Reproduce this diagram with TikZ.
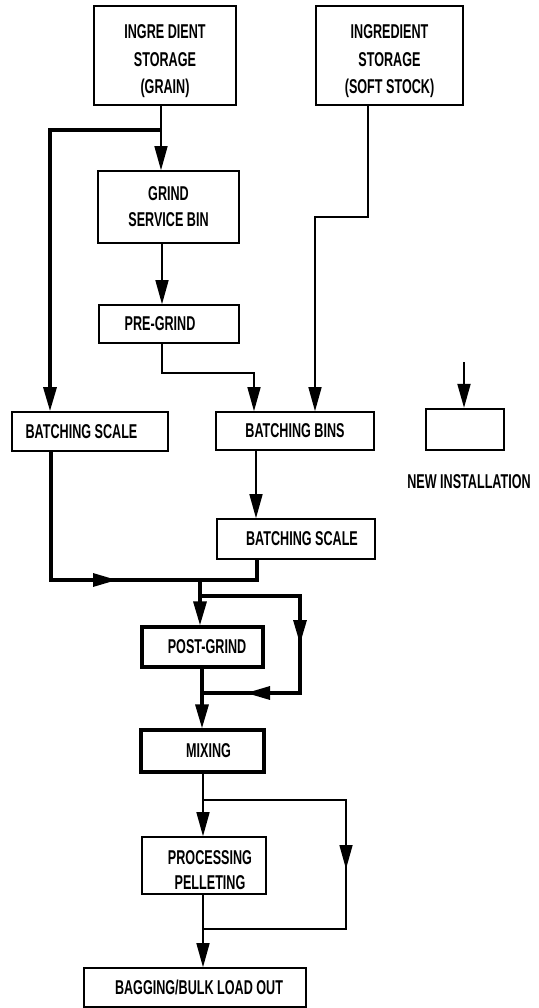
\documentclass[tikz,border=0pt]{standalone}
\usepackage{fontspec}
\setmainfont{Liberation Sans Bold}[FakeStretch=0.63]
\usetikzlibrary{arrows.meta}
\begin{document}
\begin{tikzpicture}[x=1pt,y=-1pt,
  lbl/.style={font=\fontsize{20}{27.5}\selectfont},
  box/.style={draw, line width=1.6pt, inner sep=0pt, align=center, lbl},
  boxthick/.style={box, line width=3.2pt},
  thinl/.style={line width=1.5pt},
  thickl/.style={line width=3.2pt},
  tip/.style={-{Triangle[length=24pt,width=13pt]}},
]
\useasboundingbox (0,0) rectangle (538,1008);

% boxes
\node[box, minimum width=142pt, minimum height=99pt] (stgrain) at (165,55.5) {\rule{0pt}{26pt}INGRE DIENT\\STORAGE\\(GRAIN)};
\node[box, minimum width=147pt, minimum height=99pt] (stsoft) at (389.5,55.5) {\rule{0pt}{26pt}INGREDIENT\\STORAGE\\(SOFT STOCK)};
\node[box, minimum width=141pt, minimum height=72pt, font=\fontsize{20}{26}\selectfont] (grind) at (168.5,207) {GRIND\\SERVICE BIN};
\node[box, minimum width=140pt, minimum height=38pt] (pregrind) at (169,324) {\hspace*{-18pt}PRE-GRIND};
\node[box, minimum width=156pt, minimum height=39pt] (bscale1) at (90,431.5) {\hspace*{-17pt}BATCHING SCALE};
\node[box, minimum width=158pt, minimum height=38pt] (bbins) at (295,431) {BATCHING BINS};
\node[box, line width=2.4pt, minimum width=78pt, minimum height=41pt] (newinst) at (465,429.5) {};
\node[lbl, inner sep=0pt] (nilabel) at (469,482) {NEW INSTALLATION};
\node[box, minimum width=158pt, minimum height=40pt] (bscale2) at (296,539) {\hspace*{12pt}BATCHING SCALE};
\node[boxthick, minimum width=121pt, minimum height=40pt] (postgrind) at (202.5,647) {\hspace*{9pt}POST-GRIND};
\node[boxthick, minimum width=123pt, minimum height=42pt] (mixing) at (202.5,751) {\hspace*{12pt}MIXING};
\node[box, minimum width=124pt, minimum height=57pt, font=\fontsize{20}{25}\selectfont] (processing) at (204,865.5) {\rule{0pt}{24pt}\hspace*{12pt}PROCESSING\\\hspace*{12pt}PELLETING};
\node[box, minimum width=222pt, minimum height=39pt] (bagging) at (195,987.5) {\hspace*{8pt}BAGGING/BULK LOAD OUT};

% junction coordinates
\coordinate (j1) at (161,130);
\coordinate (j1l) at (50,130);
\coordinate (c1) at (162,373);
\coordinate (c2) at (254,373);
\coordinate (s1) at (368,217);
\coordinate (s2) at (315,217);
\coordinate (n0) at (464,362);
\coordinate (b1) at (256,485);
\coordinate (m1) at (51,580);
\coordinate (m2) at (117,580);
\coordinate (m3) at (257,580);
\coordinate (m0) at (200,580);
\coordinate (p1) at (202,596);
\coordinate (p2) at (300,596);
\coordinate (p3) at (300,644);
\coordinate (p4) at (300,693);
\coordinate (p5) at (246,693);
\coordinate (p6) at (202,693);
\coordinate (q0) at (203,800);
\coordinate (q1) at (346,800);
\coordinate (q2) at (346,869);
\coordinate (q3) at (346,929);
\coordinate (q4) at (203,929);

% connectors
\draw[thinl,tip] (stgrain.south -| j1) -- (grind.north -| j1);
\draw[thickl,tip] (j1) -- (j1l) -- (bscale1.north -| j1l);
\draw[thinl,tip] (grind.south -| c1) -- (pregrind.north -| c1);
\draw[thinl,tip] (pregrind.south -| c1) -- (c1) -- (c2) -- (bbins.north -| c2);
\draw[thinl,tip] (stsoft.south -| s1) -- (s1) -- (s2) -- (bbins.north -| s2);
\draw[line width=2pt,tip] (n0) -- (newinst.north -| n0);
\draw[thinl,tip] (bbins.south -| b1) -- (bscale2.north -| b1);
\draw[thickl] (bscale1.south -| m1) -- (m1) -- (m3) -- (bscale2.south -| m3);
\draw[thickl,tip] (m1) -- (m2);
\draw[thickl,tip] (m0) -- (postgrind.north -| m0);
\draw[thickl] (p1) -- (p2) -- (p4) -- (p6);
\draw[thickl,tip] (p2) -- (p3);
\draw[thickl,tip] (p4) -- (p5);
\draw[thickl,tip] (postgrind.south -| p6) -- (mixing.north -| p6);
\draw[thinl,tip] (mixing.south -| q0) -- (processing.north -| q0);
\draw[thinl] (q0) -- (q1) -- (q3) -- (q4);
\draw[thinl,tip] (q1) -- (q2);
\draw[thinl,tip] (processing.south -| q4) -- (bagging.north -| q4);
\end{tikzpicture}
\end{document}
